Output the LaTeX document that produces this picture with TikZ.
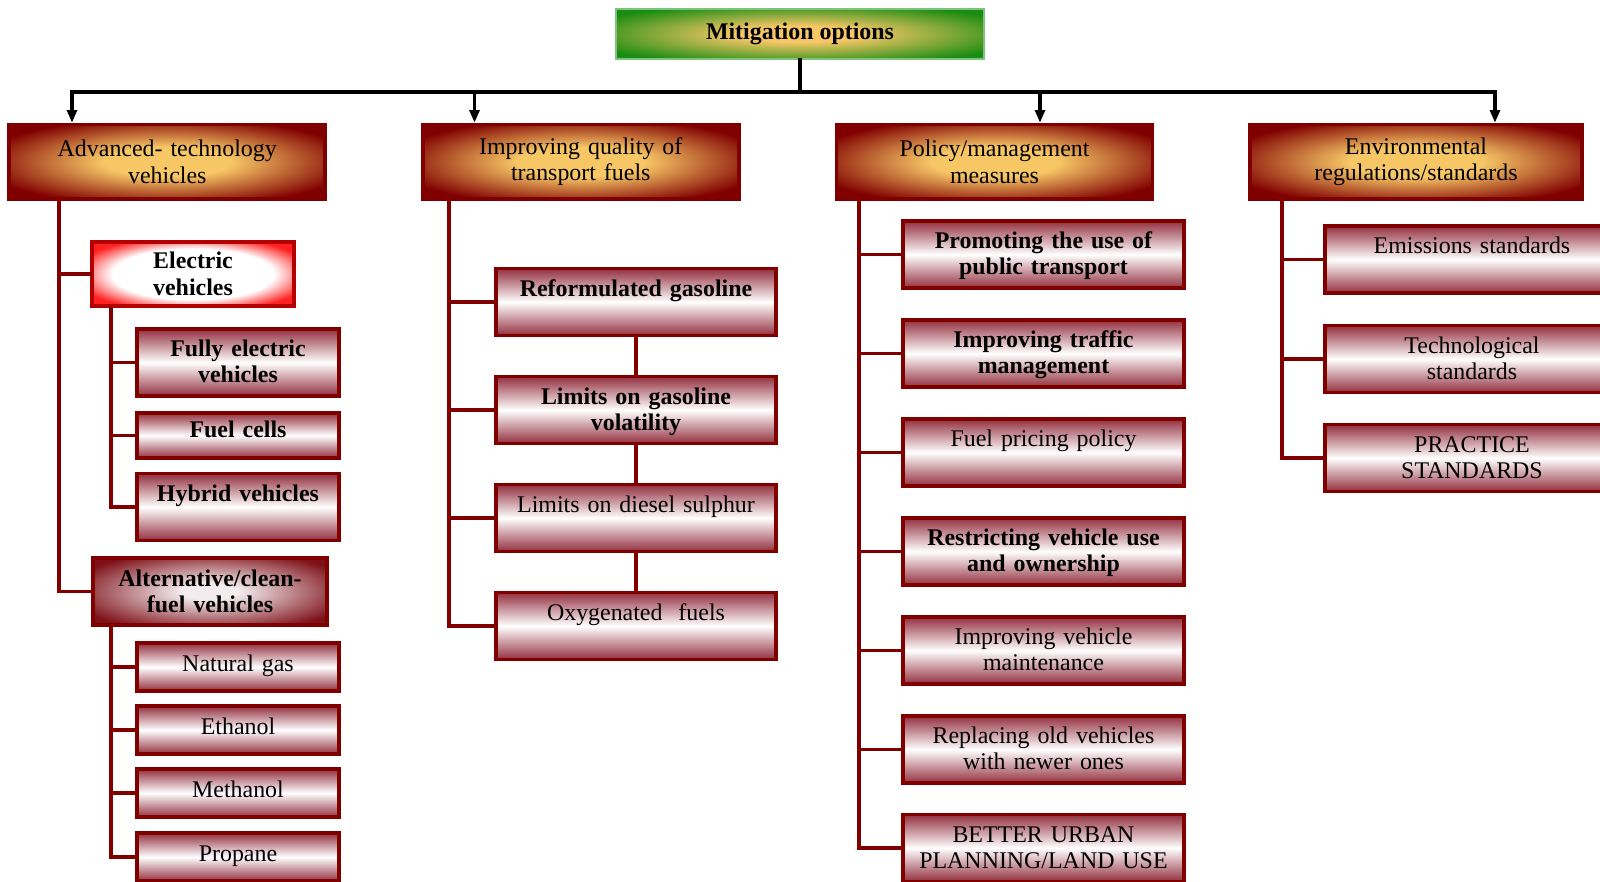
\documentclass[tikz,border=0pt]{standalone}
\usepackage{fontspec}
\setmainfont{Liberation Serif}
\usetikzlibrary{arrows.meta,positioning}

\definecolor{boxred}{HTML}{800000}
\definecolor{goldc}{HTML}{F7C766}
\definecolor{leafgreen}{HTML}{1A8C12}
\definecolor{leafline}{HTML}{7CC47C}
\definecolor{evred}{HTML}{FF2020}
\definecolor{evline}{HTML}{B40000}
\definecolor{altedge}{HTML}{7E1018}
\definecolor{altmid}{HTML}{F3ECEE}
\definecolor{subpink}{HTML}{93303F}

\pgfdeclareradialshading{greenglow}{\pgfpoint{0bp}{0bp}}{color(0bp)=(goldc); color(8bp)=(goldc); color(31bp)=(leafgreen); color(50bp)=(leafgreen)}
\pgfdeclareradialshading{goldglow}{\pgfpoint{0bp}{0bp}}{color(0bp)=(goldc); color(10bp)=(goldc); color(30bp)=(boxred); color(50bp)=(boxred)}
\pgfdeclareradialshading{redglow}{\pgfpoint{0bp}{0bp}}{color(0bp)=(white); color(20bp)=(white); color(30bp)=(evred); color(50bp)=(evred)}
\pgfdeclareradialshading{altglow}{\pgfpoint{0bp}{0bp}}{color(0bp)=(altmid); color(6bp)=(altmid); color(31bp)=(altedge); color(50bp)=(altedge)}

\tikzset{
  every node/.style={font=\fontsize{17}{18.8}\selectfont},
  bold/.style={font=\fontsize{17}{18.8}\selectfont\bfseries},
  topbox/.style={draw=leafline,line width=0.8pt,shading=greenglow,minimum width=9.2cm,minimum height=1.25cm,inner sep=0pt,bold},
  headbox/.style={draw=boxred,line width=2.6pt,shading=goldglow,minimum width=7.9cm,text width=7.9cm,minimum height=1.86cm,align=center,inner sep=0pt},
  evbox/.style={draw=evline,line width=2.2pt,shading=redglow,minimum width=5.05cm,text width=5.05cm,minimum height=1.6cm,align=center,inner sep=0pt,bold},
  altbox/.style={draw=boxred,line width=2.4pt,shading=altglow,minimum width=5.85cm,text width=5.85cm,minimum height=1.675cm,align=center,inner sep=0pt,bold},
  sub/.style={draw=boxred,line width=2.4pt,top color=subpink,bottom color=subpink,middle color=white,inner xsep=0pt,inner ysep=0pt,text height=19.5pt,text depth=28pt,align=center},
  subshort/.style={sub,text height=20.5pt,text depth=13.6pt},
  subA/.style={text width=5.05cm},
  subB/.style={text width=7cm},
  subC/.style={text width=7.025cm},
  subD/.style={text width=7.35cm},
  bus/.style={line width=2.8pt,line cap=rect},
  trunk/.style={draw=boxred,line width=2.6pt,line cap=rect}
}

\begin{document}
\begin{tikzpicture}[x=0.025cm,y=-0.025cm]
\clip (0,0) rectangle (1600,882);

% root
\node[topbox] (top) at (800,34) {Mitigation options};

% main groups
\node[headbox] (adv) at (167.25,161.75) {Advanced- technology\\vehicles};
\node[headbox] (fuel) at (580.75,161.75) {Improving quality of\\transport fuels};
\node[headbox] (pol) at (994.5,161.75) {Policy/management\\measures};
\node[headbox,minimum width=8.3cm,text width=8.3cm] (env) at (1416,161.75) {Environmental\\regulations/standards};

\coordinate (busA) at (72,92);
\coordinate (busB) at (474.5,92);
\coordinate (busC) at (1040,92);
\coordinate (busD) at (1495,92);
\draw[bus] (busA) -- (busD);
\draw[bus] (top.south) -- (top.south |- busA);
\foreach \b/\h in {busA/adv,busB/fuel,busC/pol,busD/env}
  \draw[bus,-{Triangle[length=9pt,width=7pt]}] (\b) -- (\b |- \h.north);

% advanced technology vehicles
\coordinate (xA) at (59,0);
\coordinate (xE) at (111,0);
\node[evbox] (ev) at (193,274) {Electric\\vehicles};
\node[sub,subA,bold] (fev) at (238,362.5) {Fully electric\\vehicles};
\node[sub,subA,bold,text height=17.5pt,text depth=14.5pt] (fc) at (238,435.5) {Fuel cells};
\node[sub,subA,bold] (hyb) at (238,507) {Hybrid vehicles};
\node[altbox] (alt) at (210,591.5) {Alternative/clean-\\fuel vehicles};
\node[subshort,subA] (ng) at (238,667) {Natural gas};
\node[subshort,subA] (eth) at (238,730) {Ethanol};
\node[subshort,subA] (meth) at (238,793) {Methanol};
\node[subshort,subA] (prop) at (238,857) {Propane};

\draw[trunk] (adv.south -| xA) |- (alt.west);
\draw[trunk] (xA |- ev.west) -- (ev.west);
\draw[trunk] (ev.south -| xE) |- (hyb.west);
\foreach \n in {fev,fc}
  \draw[trunk] (xE |- \n.west) -- (\n.west);
\draw[trunk] (alt.south -| xE) |- (prop.west);
\foreach \n in {ng,eth,meth}
  \draw[trunk] (xE |- \n.west) -- (\n.west);

% transport fuels
\coordinate (xB) at (449,0);
\node[sub,subB,bold] (rg) at (636,302) {Reformulated gasoline};
\node[sub,subB,bold] (lgv) at (636,410) {Limits on gasoline\\volatility};
\node[sub,subB] (lds) at (636,518) {Limits on diesel sulphur};
\node[sub,subB] (oxy) at (636,626) {Oxygenated~ fuels};

\draw[trunk] (fuel.south -| xB) |- (oxy.west);
\foreach \n in {rg,lgv,lds}
  \draw[trunk] (xB |- \n.west) -- (\n.west);
\draw[trunk] (rg.south) -- (lgv.north);
\draw[trunk] (lgv.south) -- (lds.north);
\draw[trunk] (lds.south) -- (oxy.north);

% policy measures
\coordinate (xC) at (859,0);
\node[sub,subC,bold] (pt) at (1043.5,254.5) {Promoting the use of\\public transport};
\node[sub,subC,bold] (tm) at (1043.5,353.5) {Improving traffic\\management};
\node[sub,subC] (fp) at (1043.5,452.5) {Fuel pricing policy};
\node[sub,subC,bold] (rv) at (1043.5,551.5) {Restricting vehicle use\\and ownership};
\node[sub,subC] (vm) at (1043.5,650.5) {Improving vehicle\\maintenance};
\node[sub,subC] (ro) at (1043.5,749.5) {Replacing old vehicles\\with newer ones};
\node[sub,subC] (up) at (1043.5,848) {BETTER URBAN\\PLANNING/LAND USE};

\draw[trunk] (pol.south -| xC) |- (up.west);
\foreach \n in {pt,tm,fp,rv,vm,ro}
  \draw[trunk] (xC |- \n.west) -- (\n.west);

% environmental standards
\coordinate (xD) at (1282,0);
\node[sub,subD] (es) at (1472,259.5) {Emissions standards};
\node[sub,subD] (ts) at (1472,359) {Technological\\standards};
\node[sub,subD] (ps) at (1472,458) {PRACTICE\\STANDARDS};

\draw[trunk] (env.south -| xD) |- (ps.west);
\foreach \n in {es,ts}
  \draw[trunk] (xD |- \n.west) -- (\n.west);
\end{tikzpicture}
\end{document}
